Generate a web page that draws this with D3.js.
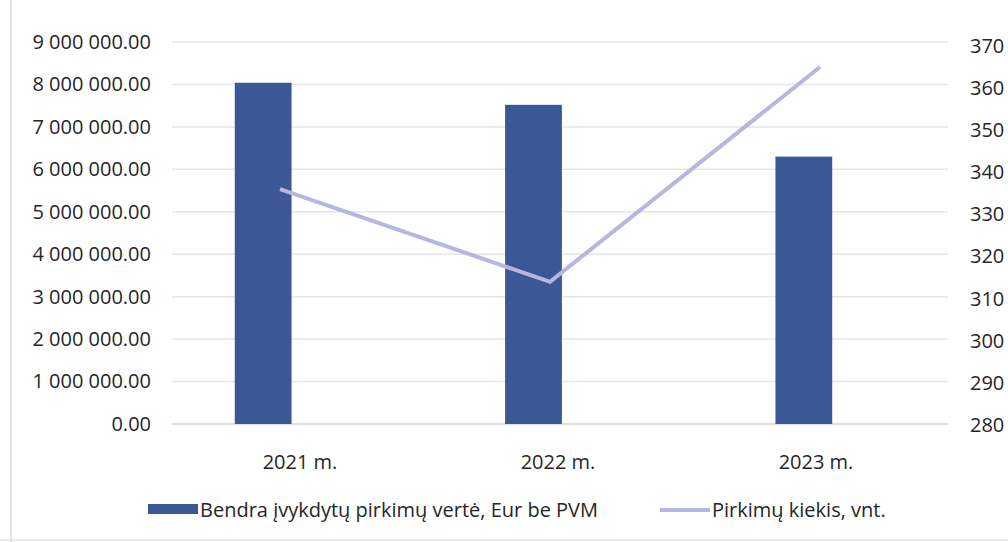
<!DOCTYPE html>
<html>
<head>
<meta charset="utf-8">
<script src="https://cdn.jsdelivr.net/npm/d3@7"></script>
<style>
  html, body { margin: 0; padding: 0; background: #fff; }
  svg { display: block; }
  text { font-family: "Open Sans", "Noto Sans", sans-serif; fill: #262626; }
</style>
</head>
<body>
<svg id="chart" width="1008" height="542"></svg>
<script>
const categories = ["2021 m.", "2022 m.", "2023 m."];
const purchaseValue = [8040000, 7520000, 6300000];
const purchaseCount = [336, 314, 365];
const leftTicks = [0, 1000000, 2000000, 3000000, 4000000, 5000000, 6000000, 7000000, 8000000, 9000000];
const rightTicks = [280, 290, 300, 310, 320, 330, 340, 350, 360, 370];
const seriesNames = ["Bendra įvykdytų pirkimų vertė, Eur be PVM", "Pirkimų kiekis, vnt."];

const svg = d3.select("#chart");
const W = 1008, H = 542;
const barColor = "#3b5795";
const lineColor = "#b6b6e2";
const FS = 20;

// faint scan border
svg.append("line").attr("x1", 11).attr("x2", 11).attr("y1", 0).attr("y2", H)
  .attr("stroke", "#e4e4e4").attr("stroke-width", 2);
svg.append("line").attr("x1", 0).attr("x2", W).attr("y1", 540).attr("y2", 540)
  .attr("stroke", "#e8e8e8").attr("stroke-width", 2);

const yL = d3.scaleLinear().domain([0, 9000000]).range([424, 42]);
const yR = d3.scaleLinear().domain([280, 370]).range([425, 46]);

// bars band scale (centres ~263, 533, 804)
const xBar = d3.scaleBand().domain(categories).range([128, 939]).paddingInner(0.79).paddingOuter(0.395);
// labels and line positions
const xLab = d3.scalePoint().domain(categories).range([300, 816]);
const xLine = d3.scalePoint().domain(categories).range([280, 820]);

const gridX1 = 172, gridX2 = 948;

// gridlines
svg.append("g").selectAll("line").data(leftTicks).join("line")
  .attr("x1", gridX1).attr("x2", gridX2)
  .attr("y1", d => yL(d)).attr("y2", d => yL(d))
  .attr("stroke", d => d === 0 ? "#d4d4d4" : "#e6e6e6").attr("stroke-width", 1.5);

// left axis
const fmt = v => d3.format(",.2f")(v).replace(/,/g, " ");
const axL = d3.axisLeft(yL).tickValues(leftTicks).tickFormat(fmt).tickSize(0).tickPadding(0);
const gL = svg.append("g").attr("transform", "translate(151,0)").call(axL);
gL.select(".domain").remove();
gL.selectAll("text").attr("font-size", FS).attr("fill", "#262626")
  .style("font-family", '"Open Sans", "Noto Sans", sans-serif');

// right axis
const axR = d3.axisRight(yR).tickValues(rightTicks).tickFormat(d3.format("d")).tickSize(0).tickPadding(0);
const gR = svg.append("g").attr("transform", "translate(970,0)").call(axR);
gR.select(".domain").remove();
gR.selectAll("text").attr("font-size", FS).attr("fill", "#262626")
  .style("font-family", '"Open Sans", "Noto Sans", sans-serif');

// bars
svg.append("g").selectAll("rect").data(categories).join("rect")
  .attr("x", d => xBar(d))
  .attr("width", xBar.bandwidth())
  .attr("y", (d, i) => yL(purchaseValue[i]))
  .attr("height", (d, i) => yL(0) - yL(purchaseValue[i]))
  .attr("fill", barColor);

// line
const line = d3.line().x((d, i) => xLine(categories[i])).y(d => yR(d));
svg.append("path").datum(purchaseCount)
  .attr("d", line).attr("fill", "none")
  .attr("stroke", lineColor).attr("stroke-width", 4).attr("stroke-linejoin", "miter");

// x labels
svg.append("g").selectAll("text").data(categories).join("text")
  .attr("x", d => xLab(d)).attr("y", 469)
  .attr("text-anchor", "middle").attr("font-size", FS)
  .text(d => d);

// legend
const lg = svg.append("g");
lg.append("rect").attr("x", 148).attr("y", 504).attr("width", 50).attr("height", 10).attr("fill", barColor);
lg.append("text").attr("x", 200).attr("y", 517).attr("font-size", FS).text(seriesNames[0]);
lg.append("line").attr("x1", 660).attr("x2", 710).attr("y1", 510).attr("y2", 510)
  .attr("stroke", lineColor).attr("stroke-width", 4);
lg.append("text").attr("x", 712).attr("y", 517).attr("font-size", FS).text(seriesNames[1]);
</script>
</body>
</html>
